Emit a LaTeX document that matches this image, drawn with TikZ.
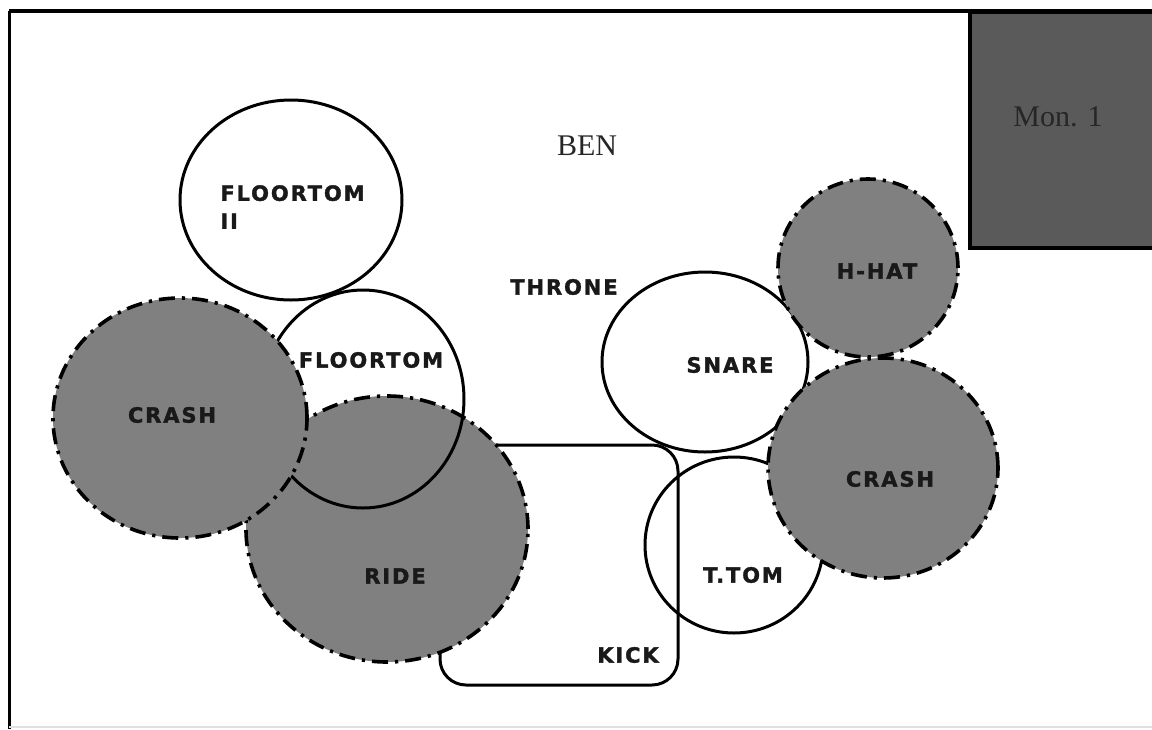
\documentclass[tikz,border=0pt]{standalone}
\usepackage{fontspec}
\setmainfont{Liberation Serif}
\newfontfamily\drumfont{DejaVu Sans}[LetterSpace=9, BoldFeatures={FakeBold=1.6}]
\usetikzlibrary{shapes.geometric}
\definecolor{cymbalgray}{RGB}{128,128,128}
\definecolor{mongray}{RGB}{90,90,90}

\begin{document}
\begin{tikzpicture}[x=0.5pt,y=-0.5pt]
\tikzstyle{drum}=[ellipse, draw, line width=1.5pt, inner sep=0pt]
\tikzstyle{cymbal}=[ellipse, draw, fill=cymbalgray, line width=1.8pt, inner sep=0pt, dash pattern=on 8pt off 3.5pt on 1.6pt off 3.5pt]
\tikzstyle{kickbox}=[rectangle, draw, rounded corners=13pt, line width=1.5pt, inner sep=0pt]
\tikzstyle{tag}=[font=\drumfont\bfseries\fontsize{10.5}{14}\selectfont, text=black!90, inner sep=0pt]
\tikzstyle{serif}=[font=\fontsize{15}{18}\selectfont, text=black!85, inner sep=0pt]
\useasboundingbox (0,0) rectangle (1152,729);
% kit, back to front
\node [kickbox, minimum width=119pt, minimum height=120pt] (KICK) at (559,565) {};
\node [cymbal, minimum width=141pt, minimum height=133pt] (RIDE) at (387,529) {};
\node [drum, minimum width=101pt, minimum height=109pt] (FLOORTOM) at (363,399) {};
\node [drum, minimum width=111pt, minimum height=100pt] (FLOORTOMII) at (291,200) {};
\node [cymbal, minimum width=127pt, minimum height=120pt] (CRASHL) at (180,418) {};
\node [drum, minimum width=103pt, minimum height=90pt] (SNARE) at (705,362) {};
\node [drum, minimum width=89pt, minimum height=88pt] (TTOM) at (734,545) {};
\node [cymbal, minimum width=90pt, minimum height=89pt] (HHAT) at (868,268) {};
\node [cymbal, minimum width=115pt, minimum height=110pt] (CRASHR) at (883,468) {};
\node [draw, line width=1.8pt, fill=mongray, minimum width=98pt, minimum height=118pt, inner sep=0pt] (MON) at (1068,130) {};
% page edges
\coordinate (TL) at (9,11);
\coordinate (TR) at (1152,11);
\coordinate (BL) at (9,729);
\coordinate (FL) at (9,727);
\coordinate (FR) at (1152,727);
\draw [line width=2.2pt] (TL) -- (TR);
\draw [line width=1.5pt] (TL) -- (BL);
\draw [black!12, line width=0.6pt] (FL) -- (FR);
% labels
\node [tag, align=left, anchor=west] (FLOORTOMIIlbl) at (220,207) {FLOORTOM\\II};
\node [tag] (FLOORTOMlbl) at (371,360) {FLOORTOM};
\node [tag] (CRASHLlbl) at (172,415) {CRASH};
\node [tag] (RIDElbl) at (395,576) {RIDE};
\node [tag] (KICKlbl) at (628,655) {KICK};
\node [tag] (THRONElbl) at (564,287) {THRONE};
\node [tag] (SNARElbl) at (730,365) {SNARE};
\node [tag] (TTOMlbl) at (743,575) {T.TOM};
\node [tag] (HHATlbl) at (877,271) {H-HAT};
\node [tag] (CRASHRlbl) at (890,479) {CRASH};
\node [serif] (BEN) at (587,146) {BEN};
\node [serif] (MONlbl) at (1058,117) {Mon. 1};
\end{tikzpicture}
\end{document}
